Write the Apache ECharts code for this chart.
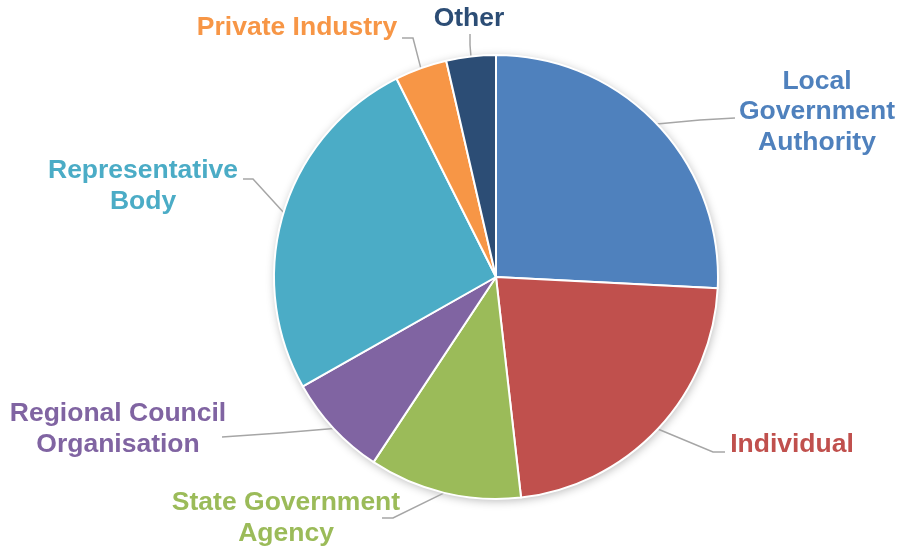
<!DOCTYPE html>
<html>
<head>
<meta charset="utf-8">
<title>Respondents by organisation type</title>
<script src="https://cdn.jsdelivr.net/npm/echarts@6/dist/echarts.min.js"></script>
<style>
  html, body { margin: 0; padding: 0; background: #ffffff; }
  #chart { width: 900px; height: 550px; }
</style>
</head>
<body>
<div id="chart"></div>
<script>
// Share of respondents (%) by organisation type, clockwise from 12 o'clock
const categories = [
  'Local Government Authority',
  'Individual',
  'State Government Agency',
  'Regional Council Organisation',
  'Representative Body',
  'Private Industry',
  'Other'
];
const shares = [25.8, 22.4, 11.1, 7.5, 25.8, 3.8, 3.6];
const labelText = [
  'Local\nGovernment\nAuthority',
  'Individual',
  'State Government\nAgency',
  'Regional Council\nOrganisation',
  'Representative\nBody',
  'Private Industry',
  'Other'
];
const colors = ['#4F81BD', '#C0504D', '#9BBB59', '#8064A2', '#4BACC6', '#F79646', '#2C4D75'];

// Where each label block sits, and the bend of its leader line
const labelPlacement = [
  { x: 817, y: 112, bend: [[700, 120], [735, 118]] },
  { x: 792, y: 445, bend: [[713, 452], [725, 452]] },
  { x: 286, y: 518, bend: [[393, 518], [382, 518]] },
  { x: 118, y: 429, bend: [[280, 433], [222, 437]] },
  { x: 143, y: 186, bend: [[253, 179], [243, 179]] },
  { x: 297, y: 28,  bend: [[413, 38], [402, 38]] },
  { x: 469, y: 19,  bend: [[470, 45], [470, 34]] }
];

const center = [496, 277];
const radius = 222;

const chart = echarts.init(document.getElementById('chart'), null, { renderer: 'canvas' });

chart.setOption({
  animation: false,
  backgroundColor: '#ffffff',
  series: [
    {
      // soft drop shadow behind the whole disc
      type: 'pie',
      silent: true,
      z: 1,
      center: center,
      radius: radius,
      label: { show: false },
      labelLine: { show: false },
      itemStyle: {
        color: '#ffffff',
        shadowBlur: 10,
        shadowColor: 'rgba(0,0,0,0.28)',
        shadowOffsetX: 1,
        shadowOffsetY: 2
      },
      data: [{ value: 1, name: '' }]
    },
    {
      type: 'pie',
      z: 2,
      center: center,
      radius: radius,
      startAngle: 90,
      clockwise: true,
      avoidLabelOverlap: false,
      itemStyle: { borderColor: '#ffffff', borderWidth: 2 },
      label: {
        show: true,
        position: 'outside',
        fontFamily: '"Liberation Sans", Arial, sans-serif',
        fontWeight: 'bold',
        fontSize: 26.5,
        lineHeight: 30.5,
        align: 'center',
        formatter: p => labelText[p.dataIndex]
      },
      labelLine: {
        show: true,
        length: 20,
        length2: 10,
        lineStyle: { color: '#A6A6A6', width: 1.5 }
      },
      labelLayout: function (params) {
        const place = labelPlacement[params.dataIndex];
        const start = params.labelLinePoints ? params.labelLinePoints[0] : null;
        const out = {
          x: place.x,
          y: place.y,
          align: 'center',
          verticalAlign: 'middle'
        };
        if (start) {
          out.labelLinePoints = [start, place.bend[0], place.bend[1]];
        }
        return out;
      },
      data: categories.map((name, i) => ({
        name: name,
        value: shares[i],
        itemStyle: { color: colors[i] },
        label: { color: colors[i] }
      }))
    }
  ]
});
</script>
</body>
</html>
